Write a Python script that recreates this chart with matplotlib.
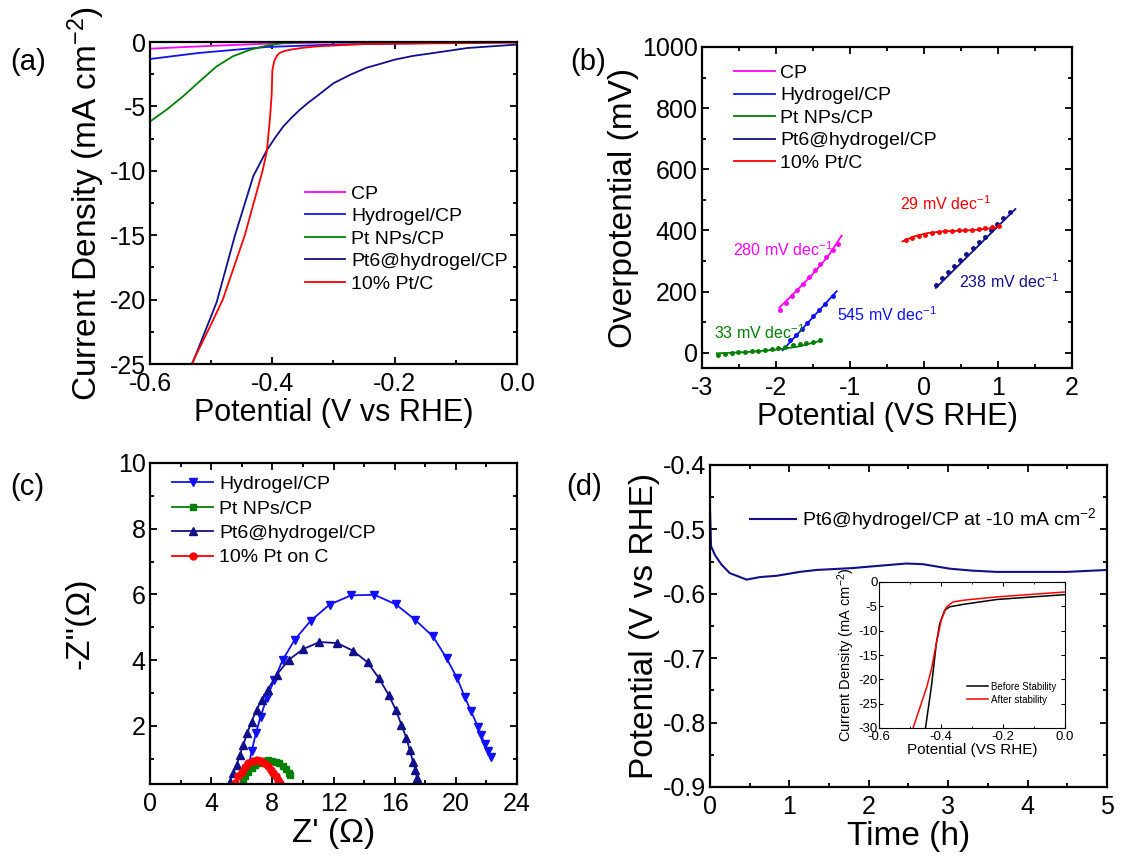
import matplotlib
matplotlib.use('Agg')
import matplotlib.pyplot as plt
from matplotlib.ticker import MultipleLocator

plt.rcParams['font.family'] = ['Liberation Sans', 'DejaVu Sans']
plt.rcParams['mathtext.default'] = 'regular'
plt.rcParams['axes.unicode_minus'] = False

# (a) LSV curves
a_cp_x = [-0.6, -0.52, -0.41, -0.3, -0.2, 0.0]
a_cp_y = [-0.52, -0.34, -0.13, -0.03, 0.0, 0.0]
a_hyd_x = [-0.6, -0.52, -0.41, -0.3, -0.14, 0.0]
a_hyd_y = [-1.32, -0.85, -0.39, -0.2, -0.08, 0.0]
a_ptnp_x = [-0.6, -0.573, -0.546, -0.519, -0.491, -0.464, -0.436, -0.409, -0.382, -0.35, -0.3, 0.0]
a_ptnp_y = [-6.17, -5.26, -4.22, -3.06, -1.89, -1.1, -0.6, -0.28, -0.08, -0.02, 0.0, 0.0]
a_pt6_x = [-0.531, -0.491, -0.461, -0.431, -0.409, -0.395, -0.382, -0.368, -0.355, -0.341, -0.327,
           -0.3, -0.273, -0.246, -0.22, -0.2, -0.17, -0.136, -0.1, -0.082, -0.04, 0.0]
a_pt6_y = [-25.0, -20.2, -15.0, -10.4, -8.4, -7.4, -6.55, -5.85, -5.26, -4.7, -4.2,
           -3.2, -2.55, -2.0, -1.65, -1.37, -1.08, -0.85, -0.6, -0.47, -0.33, -0.2]
a_ptc_x = [-0.532, -0.502, -0.481, -0.445, -0.416, -0.409, -0.404, -0.401, -0.4, -0.397, -0.393,
           -0.388, -0.38, -0.371, -0.35, -0.327, -0.245, 0.0]
a_ptc_y = [-25.0, -22.1, -20.0, -15.0, -10.0, -8.5, -6.0, -4.0, -2.2, -1.5, -1.1,
           -0.85, -0.7, -0.6, -0.45, -0.34, -0.15, -0.05]

# (b) Tafel plots: data points and fit lines
b_cp_x = [-1.95, -1.86, -1.78, -1.71, -1.63, -1.55, -1.47, -1.40, -1.32, -1.23, -1.16]
b_cp_y = [139, 161, 185, 204, 225, 247, 270, 291, 313, 337, 357]
b_cp_fx = [-1.957, -1.75, -1.5, -1.3, -1.113]
b_cp_fy = [147, 196, 258, 314, 383]
b_hyd_x = [-1.81, -1.73, -1.65, -1.58, -1.50, -1.42, -1.34, -1.23]
b_hyd_y = [43, 58, 76, 96, 120, 139, 158, 185]
b_hyd_fx = [-1.91, -1.18]
b_hyd_fy = [8, 201]
b_ptnp_x = [-2.78, -2.69, -2.60, -2.51, -2.42, -2.33, -2.24, -2.15, -2.06, -1.97, -1.88, -1.77, -1.68, -1.59, -1.50, -1.41]
b_ptnp_y = [-9, -4, -1, 1, 3, 5, 7, 10, 12, 15, 18, 24, 28, 33, 36, 40]
b_ptnp_fx = [-2.80, -2.4, -2.0, -1.7, -1.38]
b_ptnp_fy = [-2, 2, 10, 20, 40]
b_ptc_x = [-0.25, -0.16, -0.07, 0.02, 0.11, 0.20, 0.29, 0.38, 0.47, 0.56, 0.65, 0.74, 0.83, 0.92, 1.01]
b_ptc_y = [370, 375, 381, 386, 392, 395, 398, 399, 400, 401, 402, 404, 407, 410, 414]
b_ptc_fx = [-0.291, -0.14, 0.04, 0.26, 0.49, 0.71, 0.94, 1.02]
b_ptc_fy = [364, 380, 391, 397, 399, 402, 408, 413]
b_pt6_x = [0.165, 0.24, 0.32, 0.41, 0.49, 0.57, 0.66, 0.74, 0.82, 0.91, 0.99, 1.07, 1.16]
b_pt6_y = [223, 245, 264, 285, 304, 323, 341, 362, 380, 400, 422, 440, 460]
b_pt6_fx = [0.16, 1.235]
b_pt6_fy = [212, 470]

# (c) Nyquist plots
c_hyd_x = [6.05, 6.43, 6.64, 6.93, 7.23, 7.63, 8.13, 8.68, 9.46, 10.51, 11.74, 13.14, 14.67, 16.07,
           17.33, 18.51, 19.39, 20.09, 20.57, 21.00, 21.44, 21.66, 21.88, 22.10, 22.32]
c_hyd_y = [0.36, 0.71, 1.22, 1.78, 2.28, 2.84, 3.40, 4.01, 4.62, 5.20, 5.69, 5.97, 5.99, 5.70,
           5.23, 4.72, 4.06, 3.45, 2.89, 2.44, 1.98, 1.73, 1.45, 1.22, 1.05]
c_ptnp_x = [6.05, 6.21, 6.43, 6.64, 6.86, 7.15, 7.41, 7.69, 7.96, 8.22, 8.46, 8.68, 8.90, 9.07, 9.16]
c_ptnp_y = [0.25, 0.46, 0.61, 0.71, 0.81, 0.88, 0.93, 0.96, 0.94, 0.91, 0.86, 0.78, 0.68, 0.58, 0.51]
c_pt6_x = [5.22, 5.44, 5.66, 5.88, 6.10, 6.36, 6.64, 6.97, 7.30, 7.69, 8.28, 9.07, 10.03, 11.08,
           12.22, 13.27, 14.23, 14.97, 15.61, 16.09, 16.44, 16.77, 16.98, 17.20, 17.36, 17.46]
c_pt6_y = [0.30, 0.56, 0.81, 1.12, 1.42, 1.78, 2.13, 2.49, 2.79, 3.10, 3.55, 4.01, 4.34, 4.55,
           4.52, 4.29, 3.93, 3.45, 2.94, 2.47, 2.03, 1.62, 1.27, 0.91, 0.66, 0.41]
c_ptc_x = [5.55, 5.77, 5.99, 6.21, 6.43, 6.71, 6.97, 7.23, 7.48, 7.69, 7.89, 8.07, 8.24, 8.39, 8.50]
c_ptc_y = [0.27, 0.46, 0.61, 0.76, 0.86, 0.93, 0.96, 0.94, 0.88, 0.78, 0.66, 0.56, 0.46, 0.35, 0.27]

# (d) stability test
d_t = [0.0, 0.013, 0.063, 0.147, 0.25, 0.42, 0.46, 0.63, 0.84, 1.13, 1.34, 1.80, 2.18, 2.47,
       2.68, 3.02, 3.30, 3.61, 4.07, 4.49, 5.0]
d_v = [-0.469, -0.526, -0.540, -0.555, -0.568, -0.576, -0.578, -0.574, -0.572, -0.566, -0.563,
       -0.560, -0.556, -0.553, -0.554, -0.561, -0.564, -0.566, -0.566, -0.566, -0.563]
ins_before_x = [-0.450, -0.43, -0.415, -0.404, -0.388, -0.372, -0.329, -0.221, -0.113, 0.0]
ins_before_y = [-30.0, -21.0, -12.6, -8.5, -5.8, -5.1, -4.6, -3.6, -3.1, -2.6]
ins_after_x = [-0.49, -0.447, -0.431, -0.415, -0.399, -0.382, -0.361, -0.329, -0.221, 0.0]
ins_after_y = [-30.0, -21.8, -18.0, -12.6, -7.8, -5.1, -4.1, -3.75, -3.07, -2.05]

MAG = '#ff00ff'
BLUE = '#1010ff'
GREEN = '#008000'
NAVY = '#10108a'
RED = '#ff0000'


def style(ax, xmin, ymin):
    ax.tick_params(which='both', direction='in', top=True, right=True, width=1.3)
    ax.tick_params(which='major', length=5, labelsize=18)
    ax.tick_params(which='minor', length=3)
    ax.xaxis.set_minor_locator(MultipleLocator(xmin))
    ax.yaxis.set_minor_locator(MultipleLocator(ymin))
    for s in ax.spines.values():
        s.set_linewidth(1.6)


fig = plt.figure(figsize=(11.26, 8.61), dpi=100)
W, H = 1126.0, 861.0


def box(l, t, r, b):
    return [l / W, 1 - b / H, (r - l) / W, (b - t) / H]


# ---- (a)
ax = fig.add_axes(box(150, 42, 517, 364))
ax.plot(a_cp_x, a_cp_y, color=MAG, lw=1.3, label='CP')
ax.plot(a_hyd_x, a_hyd_y, color=BLUE, lw=1.3, label='Hydrogel/CP')
ax.plot(a_ptnp_x, a_ptnp_y, color=GREEN, lw=1.3, label='Pt NPs/CP')
ax.plot(a_pt6_x, a_pt6_y, color=NAVY, lw=1.3, label='Pt6@hydrogel/CP')
ax.plot(a_ptc_x, a_ptc_y, color=RED, lw=1.3, label='10% Pt/C')
ax.set_xlim(-0.6, 0.0)
ax.set_ylim(-25, 0)
ax.set_xticks([-0.6, -0.4, -0.2, 0.0])
ax.set_yticks([-25, -20, -15, -10, -5, 0])
style(ax, 0.1, 2.5)
ax.tick_params(axis='x', pad=6)
ax.tick_params(axis='y', pad=3)
ax.set_xlabel('Potential (V vs RHE)', fontsize=22, labelpad=1)
ax.set_ylabel('Current Density (mA cm$^{-2}$)', fontsize=24, labelpad=2)
ax.legend(loc='upper left', bbox_to_anchor=(0.4, 0.58), frameon=False, fontsize=14,
          handlelength=2.1, handletextpad=0.3, labelspacing=0.25, borderaxespad=0)

# ---- (b)
ax = fig.add_axes(box(702, 47, 1072, 368))
ax.plot(b_cp_fx, b_cp_fy, color=MAG, lw=1.3, label='CP')
ax.plot(b_hyd_fx, b_hyd_fy, color=BLUE, lw=1.3, label='Hydrogel/CP')
ax.plot(b_ptnp_fx, b_ptnp_fy, color=GREEN, lw=1.3, label='Pt NPs/CP')
ax.plot(b_pt6_fx, b_pt6_fy, color=NAVY, lw=1.3, label='Pt6@hydrogel/CP')
ax.plot(b_ptc_fx, b_ptc_fy, color=RED, lw=1.3, label='10% Pt/C')
ax.plot(b_cp_x, b_cp_y, 'o', color=MAG, ms=2.5)
ax.plot(b_hyd_x, b_hyd_y, 'o', color=BLUE, ms=2.5)
ax.plot(b_ptnp_x, b_ptnp_y, 'o', color=GREEN, ms=2.5)
ax.plot(b_pt6_x, b_pt6_y, 'o', color=NAVY, ms=2.5)
ax.plot(b_ptc_x, b_ptc_y, 'o', color=RED, ms=2.5)
ann = dict(fontsize=11.5, va='center')
ax.text(-2.58, 337, '280 mV dec$^{-1}$', color=MAG, **ann)
ax.text(-1.18, 125, '545 mV dec$^{-1}$', color=BLUE, **ann)
ax.text(-2.84, 65, '33 mV dec$^{-1}$', color=GREEN, **ann)
ax.text(-0.33, 489, '29 mV dec$^{-1}$', color=RED, **ann)
ax.text(0.47, 234, '238 mV dec$^{-1}$', color=NAVY, **ann)
ax.set_xlim(-3, 2)
ax.set_ylim(-50, 1000)
ax.set_xticks([-3, -2, -1, 0, 1, 2])
ax.set_yticks([0, 200, 400, 600, 800, 1000])
style(ax, 0.5, 100)
ax.tick_params(axis='x', pad=6)
ax.tick_params(axis='y', pad=3)
ax.set_xlabel('Potential (VS RHE)', fontsize=22, labelpad=1)
ax.set_ylabel('Overpotential (mV)', fontsize=24, labelpad=2)
ax.legend(loc='upper left', bbox_to_anchor=(0.065, 0.97), frameon=False, fontsize=14,
          handlelength=2.1, handletextpad=0.3, labelspacing=0.25, borderaxespad=0)

# ---- (c)
ax = fig.add_axes(box(150, 463, 517, 784))
ax.plot(c_hyd_x, c_hyd_y, '-v', color=BLUE, lw=1.3, ms=6, label='Hydrogel/CP')
ax.plot(c_ptnp_x, c_ptnp_y, '-s', color=GREEN, lw=1.3, ms=5, label='Pt NPs/CP')
ax.plot(c_pt6_x, c_pt6_y, '-^', color=NAVY, lw=1.3, ms=6, label='Pt6@hydrogel/CP')
ax.plot(c_ptc_x, c_ptc_y, '-o', color=RED, lw=1.3, ms=5, label='10% Pt on C')
ax.set_xlim(0, 24)
ax.set_ylim(0.23, 10)
ax.set_xticks([0, 4, 8, 12, 16, 20, 24])
ax.set_yticks([2, 4, 6, 8, 10])
style(ax, 2, 1)
ax.tick_params(axis='x', pad=6)
ax.tick_params(axis='y', pad=3)
ax.set_xlabel("Z' (\u03a9)", fontsize=24, labelpad=1)
ax.set_ylabel("-Z''(\u03a9)", fontsize=24, labelpad=16)
ax.legend(loc='upper left', bbox_to_anchor=(0.04, 0.985), frameon=False, fontsize=14,
          handlelength=2.1, handletextpad=0.3, labelspacing=0.35, borderaxespad=0)

# ---- (d)
ax = fig.add_axes(box(710, 465, 1107, 787))
ax.plot(d_t, d_v, color=NAVY, lw=1.5, label='Pt6@hydrogel/CP at -10 mA cm$^{-2}$')
ax.set_xlim(0, 5)
ax.set_ylim(-0.9, -0.4)
ax.set_xticks([0, 1, 2, 3, 4, 5])
ax.set_yticks([-0.9, -0.8, -0.7, -0.6, -0.5, -0.4])
style(ax, 0.5, 0.05)
ax.tick_params(axis='x', pad=6)
ax.tick_params(axis='y', pad=3)
ax.set_xlabel('Time (h)', fontsize=24, labelpad=1)
ax.set_ylabel('Potential (V vs RHE)', fontsize=24, labelpad=2)
ax.legend(loc='upper left', bbox_to_anchor=(0.08, 0.895), frameon=False, fontsize=14,
          handlelength=2.4, handletextpad=0.3, borderaxespad=0)

# inset
ins = fig.add_axes(box(879, 582, 1065, 728))
ins.plot(ins_before_x, ins_before_y, color='black', lw=1.1, label='Before Stability')
ins.plot(ins_after_x, ins_after_y, color=RED, lw=1.1, label='After stability')
ins.set_xlim(-0.6, 0.0)
ins.set_ylim(-30, 0)
ins.set_xticks([-0.6, -0.4, -0.2, 0.0])
ins.set_yticks([-30, -25, -20, -15, -10, -5, 0])
ins.tick_params(which='both', direction='in', top=True, right=True, labelsize=9.5, pad=1)
ins.tick_params(axis='x', pad=2)
ins.tick_params(which='major', length=3)
ins.tick_params(which='minor', length=1.5)
ins.xaxis.set_minor_locator(MultipleLocator(0.1))
for s in ins.spines.values():
    s.set_linewidth(0.8)
ins.set_xlabel('Potential (VS RHE)', fontsize=11, labelpad=0)
ins.set_ylabel('Current Density (mA cm$^{-2}$)', fontsize=10.5, labelpad=1)
ins.legend(loc='lower right', frameon=False, fontsize=7, handlelength=2.2,
           handletextpad=0.3, labelspacing=0.3, bbox_to_anchor=(1.0, 0.1))

# panel letters
for lab, x, y in [('(a)', 10, 62), ('(b)', 570, 62), ('(c)', 10, 487), ('(d)', 566, 487)]:
    fig.text(x / W, 1 - y / H, lab, fontsize=21, va='center', ha='left')

fig.savefig('out.png', dpi=100)
